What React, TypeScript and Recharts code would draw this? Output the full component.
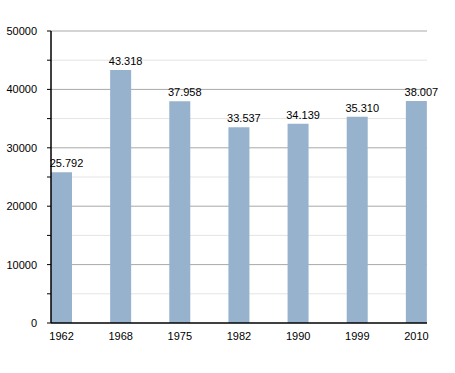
import { BarChart, Bar, XAxis, YAxis, CartesianGrid, LabelList } from 'recharts'

const years = ['1962', '1968', '1975', '1982', '1990', '1999', '2010']
const population = [25792, 43318, 37958, 33537, 34139, 35310, 38007]
const yTicks = [0, 5000, 10000, 15000, 20000, 25000, 30000, 35000, 40000, 45000, 50000]
const majorLines = [10000, 20000, 30000, 40000, 50000]
const minorLines = [5000, 15000, 25000, 35000, 45000]

const data = years.map((year, i) => ({ year, value: population[i] }))

const fmt = (v: number) => String(v).replace(/\B(?=(\d{3})+(?!\d))/g, '.')

export default function App() {
  const font = { fontFamily: 'Liberation Sans, Arial, sans-serif', fontSize: 11, fill: '#000' }
  return (
    <div style={{ position: 'absolute', left: 0, top: 0, background: '#fff' }}>
      <BarChart width={455} height={373} data={data} margin={{ top: 31, right: 28, bottom: 20, left: 0 }}>
        <CartesianGrid vertical={false} horizontalValues={minorLines} stroke="#e4e4e4" />
        <CartesianGrid vertical={false} horizontalValues={majorLines} stroke="#a8a8a8" />
        <XAxis
          dataKey="year"
          height={30}
          tickLine={false}
          axisLine={{ stroke: '#000', strokeWidth: 1.5 }}
          tick={font}
          tickMargin={3}
          padding={{ left: -19, right: -19 }}
          interval={0}
        />
        <YAxis
          width={51}
          domain={[0, 50000]}
          ticks={yTicks}
          interval={0}
          tickSize={4}
          tickMargin={10}
          tickLine={{ stroke: '#000' }}
          axisLine={{ stroke: '#000', strokeWidth: 1.5 }}
          tick={font}
          tickFormatter={(v: number) => (v % 10000 === 0 ? String(v) : '')}
        />
        <Bar dataKey="value" fill="#97b2cd" barSize={21} isAnimationActive={false}>
          <LabelList dataKey="value" position="top" offset={5} dx={5} formatter={(v: number) => fmt(v)} style={font} />
        </Bar>
      </BarChart>
    </div>
  )
}
